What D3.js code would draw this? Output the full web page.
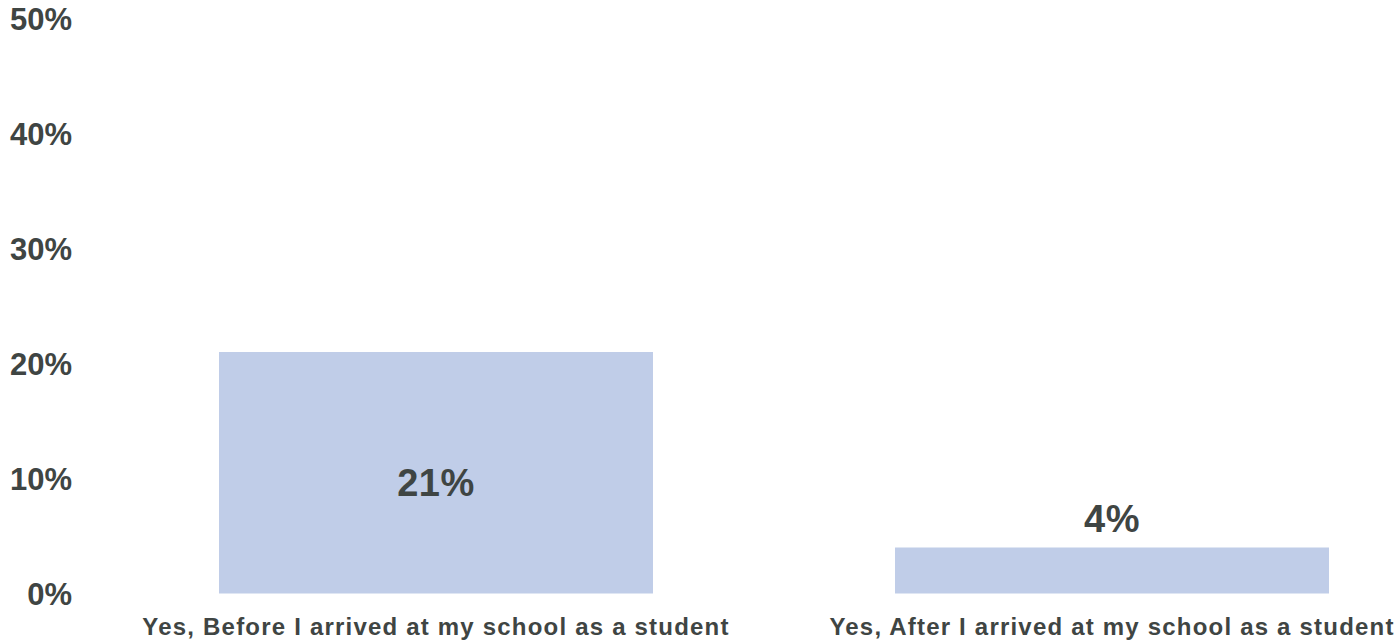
<!DOCTYPE html>
<html>
<head>
<meta charset="utf-8">
<script src="https://cdn.jsdelivr.net/npm/d3@7"></script>
<style>
  html, body { margin: 0; padding: 0; background: #fff; }
  svg { display: block; }
  text { font-family: "Liberation Sans", Arial, sans-serif; font-weight: bold; fill: #3f4543; }
</style>
</head>
<body>
<svg id="chart" width="1396" height="640"></svg>
<script>
// Survey answers and their shares (percent)
const categories = [
  "Yes, Before I arrived at my school as a student",
  "Yes, After I arrived at my school as a student"
];
const values = [21, 4];
const yTicks = [0, 10, 20, 30, 40, 50];

const svg = d3.select("#chart");

const y = d3.scaleLinear().domain([0, 50]).range([593.5, 18.5]);
const x = d3.scaleBand()
  .domain(categories)
  .range([98, 1450])
  .paddingInner(0.358)
  .paddingOuter(0.179);

// Y axis labels (no axis line or ticks)
const yAxis = d3.axisLeft(y)
  .tickValues(yTicks)
  .tickFormat(d => d + "%")
  .tickSize(0)
  .tickPadding(0);
const gy = svg.append("g").attr("transform", "translate(72,0)").call(yAxis);
gy.select(".domain").remove();
gy.selectAll("text")
  .attr("dy", null)
  .attr("y", 10.5)
  .style("font-size", "31px")
  .style("font-family", null)
  .attr("fill", null);

// Bars
svg.append("g").selectAll("rect")
  .data(values)
  .join("rect")
  .attr("x", (d, i) => x(categories[i]))
  .attr("width", x.bandwidth())
  .attr("y", d => y(d))
  .attr("height", d => y(0) - y(d))
  .attr("fill", "#c0cde8");

// Value labels: inside tall bars, above short ones
svg.append("g").selectAll("text")
  .data(values)
  .join("text")
  .attr("x", (d, i) => x(categories[i]) + x.bandwidth() / 2)
  .attr("y", d => (y(0) - y(d)) > 100 ? (y(d) + y(0)) / 2 + 23 : y(d) - 16)
  .attr("text-anchor", "middle")
  .style("font-size", "38px")
  .style("letter-spacing", "0.5px")
  .text(d => d + "%");

// Category labels
const xAxis = d3.axisBottom(x).tickSize(0).tickPadding(0);
const gx = svg.append("g").attr("transform", `translate(0,${y(0)})`).call(xAxis);
gx.select(".domain").remove();
gx.selectAll("text")
  .attr("dy", null)
  .attr("y", 41.5)
  .style("font-size", "24px")
  .style("letter-spacing", "1.2px")
  .style("font-family", null)
  .attr("fill", null);
</script>
</body>
</html>
